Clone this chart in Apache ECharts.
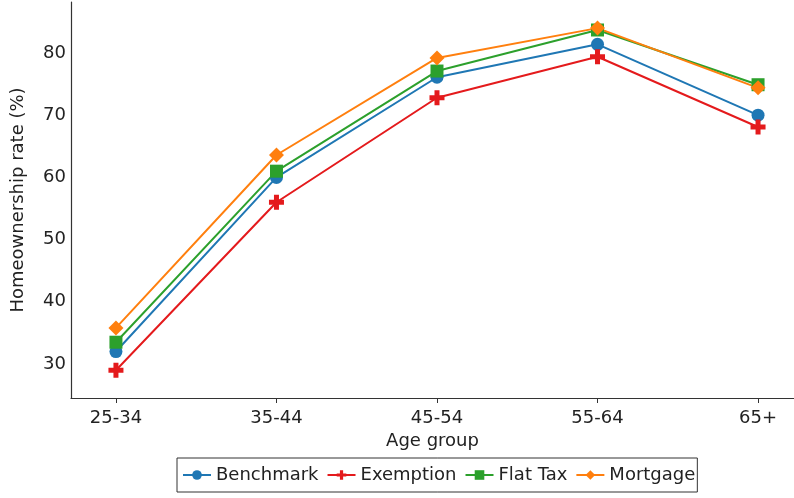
<!DOCTYPE html>
<html><head><meta charset="utf-8">
<script src="https://cdn.jsdelivr.net/npm/echarts@6/dist/echarts.min.js"></script>
<style>html,body{margin:0;padding:0;background:#fff}#c{width:794px;height:498px}</style>
</head><body><div id="c"></div>
<script>
const categories = ['25-34','35-44','45-54','55-64','65+'];
const benchmark = [32.0, 60.0, 76.1, 81.4, 70.0];
const exemption = [29.0, 56.0, 72.8, 79.4, 68.1];
const flatTax   = [33.5, 61.0, 77.1, 83.7, 74.9];
const mortgage  = [35.8, 63.6, 79.2, 84.0, 74.4];
const yTicks = [30, 40, 50, 60, 70, 80];

const FONT = 'DejaVu Sans';
const plus = 'path://M-1,-3H1V-1H3V1H1V3H-1V1H-3V-1H-1Z';
function mk(name, data, color, symbol, size){
  return {name, type:'line', data: data.map((v,i)=>[i,v]), symbol, symbolSize:size,
    lineStyle:{color, width:2}, itemStyle:{color}, emphasis:{disabled:true}, animation:false};
}
const chart = echarts.init(document.getElementById('c'), null, {renderer:'canvas'});
chart.setOption({
  animation:false,
  grid:{left:71, right:0, top:2, bottom:100, containLabel:false},
  legend:{
    data:['Benchmark','Exemption','Flat Tax','Mortgage'],
    left:177, top:458,
    borderColor:'#333', borderWidth:1, padding:[8,2,8,5], itemGap:8,
    itemWidth:28, itemHeight:12,
    textStyle:{fontFamily:FONT, fontSize:18, color:'#222'}
  },
  xAxis:{type:'value', min:-0.28, max:4.224,
    name:'Age group', nameLocation:'middle', nameGap:32,
    nameTextStyle:{fontFamily:FONT, fontSize:18, color:'#222'},
    axisLine:{show:true, onZero:false, lineStyle:{color:'#333', width:1.2}},
    axisTick:{show:true, length:5, customValues:[0,1,2,3,4], lineStyle:{color:'#333'}},
    axisLabel:{customValues:[0,1,2,3,4], formatter:v=>categories[Math.round(v)], fontFamily:FONT, fontSize:18, color:'#222', margin:11},
    splitLine:{show:false}
  },
  yAxis:{type:'value', min:24.53, max:88.2,
    name:'Homeownership rate (%)', nameLocation:'middle', nameGap:44, nameRotate:90,
    nameTextStyle:{fontFamily:FONT, fontSize:18, color:'#222'},
    axisLine:{show:true, onZero:false, lineStyle:{color:'#333', width:1.2}},
    axisTick:{show:false},
    axisLabel:{customValues:yTicks, fontFamily:FONT, fontSize:18, color:'#222', margin:5},
    splitLine:{show:false}
  },
  series:[
    mk('Benchmark', benchmark, '#1f77b4', 'circle', 13),
    mk('Exemption', exemption, '#e41a1c', plus, 15),
    mk('Flat Tax', flatTax, '#2ca02c', 'rect', 13),
    mk('Mortgage', mortgage, '#ff7f0e', 'diamond', 15)
  ]
});
</script></body></html>
